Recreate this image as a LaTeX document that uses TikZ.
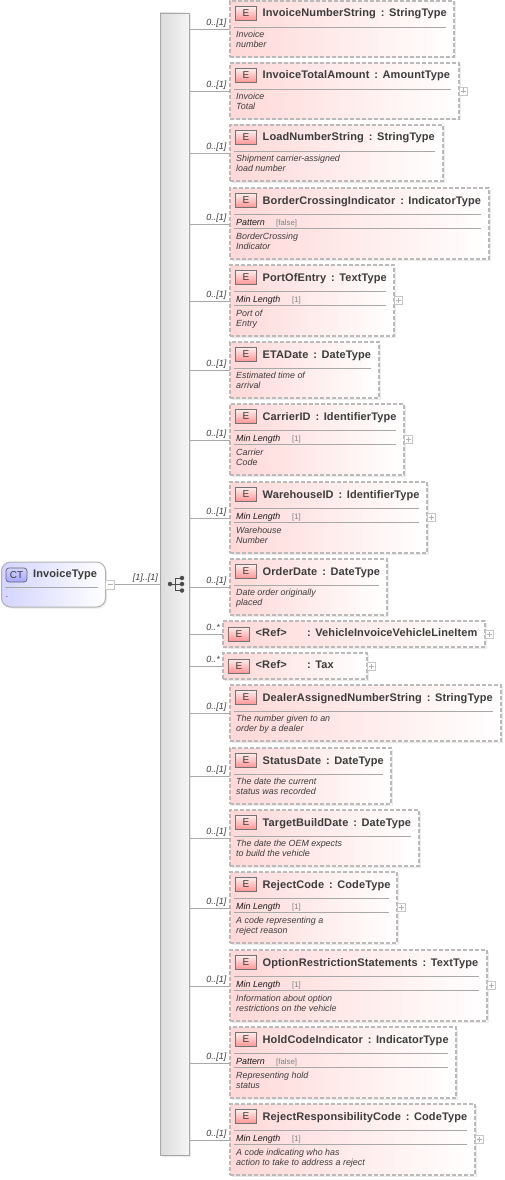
\documentclass[tikz,border=0pt]{standalone}
\usepackage{fontspec}
\setmainfont{Liberation Sans}
\usepackage{xcolor}
\usetikzlibrary{calc,positioning,shadows}

\definecolor{inktext}{HTML}{3C3C3C}
\definecolor{linegray}{HTML}{A8A8A8}
\definecolor{dashgray}{HTML}{BABABA}
\definecolor{elempink}{HTML}{FFD8D8}
\definecolor{ctblue}{HTML}{D4D4FF}

\tikzset{
  softshadow/.style={drop shadow={shadow xshift=1.5pt,shadow yshift=-1.5pt,fill=black,opacity=.08}},
  elembox/.style={draw=dashgray,dash pattern=on 4pt off 2pt,line width=1.1pt,left color=elempink,
    right color=white,softshadow,anchor=north west,inner sep=0pt,outer sep=0pt},
  badge/.style={draw=black!55,line width=.7pt,top color=red!7,bottom color=red!42,
    minimum width=21pt,minimum height=14pt,inner sep=0pt,text=inktext,font=\fontsize{10}{12}\selectfont},
  titletxt/.style={anchor=base west,inner sep=0pt,text=inktext,
    font=\fontsize{11}{12}\bfseries\selectfont\addfontfeature{LetterSpace=1}},
  doctxt/.style={anchor=north west,inner sep=0pt,align=left,text=inktext,font=\fontsize{8.9}{10}\itshape\selectfont},
  facettxt/.style={anchor=base west,inner sep=0pt,text=black!90,font=\fontsize{8.9}{10}\itshape\selectfont},
  facetval/.style={anchor=base west,inner sep=0pt,text=black!50,font=\fontsize{7.8}{10}\selectfont},
  occurs/.style={anchor=east,inner sep=0pt,text=inktext,font=\fontsize{9}{10}\itshape\selectfont},
  rulegray/.style={draw=linegray,line width=.8pt},
  conn/.style={draw=linegray,line width=.8pt},
  plusbox/.style={draw=black!22,fill=white,line width=.6pt,minimum size=8pt,inner sep=0pt,anchor=west,outer sep=0pt,
    path picture={\draw[black!30,line width=.5pt]
      ([xshift=-2.5pt]path picture bounding box.center) -- ([xshift=2.5pt]path picture bounding box.center)
      ([yshift=-2.5pt]path picture bounding box.center) -- ([yshift=2.5pt]path picture bounding box.center);}},
  minusbox/.style={draw=black!22,fill=white,line width=.6pt,minimum size=9pt,inner sep=0pt,anchor=west,outer sep=0pt,
    path picture={\draw[black!30,line width=.5pt]
      ([xshift=-2.5pt]path picture bounding box.center) -- ([xshift=2.5pt]path picture bounding box.center);}},
  icondot/.style={circle,fill=black!70,minimum size=4.5pt,inner sep=0pt},
}
\newcommand{\tsep}{\hspace{5pt}:\hspace{4.5pt}}

% element without a facet row
\newcommand{\elemplain}[5]{
  \node[elembox,minimum width=#3pt-230pt,minimum height=56pt] (#1) at (230,#2) {};
  \node[badge] (#1e) at ($(#1.north west)+(16,12.5)$) {E};
  \node[titletxt] (#1t) at ($(#1.north west)+(32.5,16)$) {#4};
  \draw[rulegray] ($(#1.north west)+(4,26)$) -- ($(#1.north east)+(-8,26)$);
  \node[doctxt] (#1d) at ($(#1.north west)+(6,29.5)$) {\strut #5};
  \draw[conn] (seq.east |- #1.west) ++(0,.5) -- ([yshift=-.5pt]#1.west);
  \node[occurs] (#1o) at ($(#1.west)+(-3.5,-5.5)$) {0..[1]};
}
% element with one facet row
\newcommand{\elemfacet}[7]{
  \node[elembox,minimum width=#3pt-230pt,minimum height=71pt] (#1) at (230,#2) {};
  \node[badge] (#1e) at ($(#1.north west)+(16,12.5)$) {E};
  \node[titletxt] (#1t) at ($(#1.north west)+(32.5,16)$) {#4};
  \draw[rulegray] ($(#1.north west)+(4,26)$) -- ($(#1.north east)+(-8,26)$);
  \draw[rulegray] ($(#1.north west)+(4,40)$) -- ($(#1.north east)+(-8,40)$);
  \node[facettxt] (#1f) at ($(#1.north west)+(6,37)$) {#5};
  \node[facetval] (#1v) at ($(#1.north west)+(#6,37)$) {#7};
  \draw[conn] (seq.east |- #1.west) ++(0,.5) -- ([yshift=-.5pt]#1.west);
  \node[occurs] (#1o) at ($(#1.west)+(-3.5,-5.5)$) {0..[1]};
}
% reference element
\newcommand{\elemref}[4]{
  \node[elembox,minimum width=#3pt-223pt,minimum height=26pt] (#1) at (223,#2) {};
  \node[badge] (#1e) at ($(#1.north west)+(16,13)$) {E};
  \node[titletxt] (#1t) at ($(#1.north west)+(32.5,15)$) {<Ref>};
  \node[titletxt] (#1n) at ($(#1.north west)+(84,15)$) {#4};
  \draw[conn] (seq.east |- #1.west) ++(0,.5) -- ([yshift=-.5pt]#1.west);
  \node[occurs] (#1o) at ($(#1.west)+(-3,-6.5)$) {0..*};
  \node[plusbox] (#1p) at (#1.east) {};
}

\begin{document}
\begin{tikzpicture}[x=1pt,y=-1pt]
  \useasboundingbox (0,0) rectangle (505,1180);
  % --- sequence bar ---
  \node[draw=black!35,line width=.8pt,left color=black!14,right color=black!4,softshadow,anchor=north west,
        minimum width=29pt,minimum height=1142pt,inner sep=0pt,outer sep=0pt] (seq) at (160,13) {};
  % --- complex type ---
  \node[draw=black!30,line width=1pt,rounded corners=9pt,left color=ctblue,right color=white,softshadow,
        anchor=north west,minimum width=104pt,minimum height=45pt,inner sep=0pt,outer sep=0pt] (ct) at (1.5,562) {};
  \node[draw=black!60,line width=.7pt,rounded corners=3pt,top color=ctblue,bottom color=blue!35,
        minimum width=21pt,minimum height=14pt,inner sep=0pt,text=inktext,font=\fontsize{10}{12}\selectfont]
        (ctbadge) at (16.5,575) {CT};
  \node[titletxt] (cttitle) at (33,577) {InvoiceType};
  \draw[rulegray] (5,587.5) -- (98,587.5);
  \node[doctxt] (ctdoc) at (6,590) {\strut .};
  \node[minusbox] (ctminus) at (ct.east) {};
  \draw[conn] (ctminus) -- (ctminus -| seq.west);
  \node[occurs] (ctocc) at (158,578) {[1]..[1]};
  % --- sequence symbol ---
  \node[icondot] (seqdot) at (170,584) {};
  \node[icondot] (seqa) at (182,578) {};
  \node[icondot] (seqb) at (182,584) {};
  \node[icondot] (seqc) at (182,590.5) {};
  \coordinate (seqhub) at (175,584);
  \draw[black!70,line width=.8pt] (seqdot) -- (seqhub);
  \foreach \d in {seqa,seqb,seqc} {
    \draw[black!70,line width=.8pt] (seqhub) |- (\d);
  }
  % --- children ---
  \elemplain{invnum}{1}{454}{InvoiceNumberString\tsep StringType}{Invoice\\number}
  \elemplain{invtot}{63}{459}{InvoiceTotalAmount\tsep AmountType}{Invoice\\Total}
  \node[plusbox] (invtotp) at (invtot.east) {};
  \elemplain{loadnum}{125}{443}{LoadNumberString\tsep StringType}{Shipment carrier-assigned\\load number}
  \elemfacet{border}{188}{489}{BorderCrossingIndicator\tsep IndicatorType}{Pattern}{46}{[false]}
  \node[doctxt] (borderd) at ($(border.north west)+(6,44)$) {\strut BorderCrossing\\Indicator};
  \elemfacet{port}{265}{394}{PortOfEntry\tsep TextType}{Min Length}{62}{[1]}
  \node[doctxt] (portd) at ($(port.north west)+(6,44)$) {\strut Port of\\Entry};
  \node[plusbox] (portp) at (port.east) {};
  \elemplain{eta}{342}{379}{ETADate\tsep DateType}{Estimated time of\\arrival}
  \elemfacet{carrier}{404}{404}{CarrierID\tsep IdentifierType}{Min Length}{62}{[1]}
  \node[doctxt] (carrierd) at ($(carrier.north west)+(6,44)$) {\strut Carrier\\Code};
  \node[plusbox] (carrierp) at (carrier.east) {};
  \elemfacet{wareh}{482}{427}{WarehouseID\tsep IdentifierType}{Min Length}{62}{[1]}
  \node[doctxt] (warehd) at ($(wareh.north west)+(6,44)$) {\strut Warehouse\\Number};
  \node[plusbox] (warehp) at (wareh.east) {};
  \elemplain{order}{559}{387}{OrderDate\tsep DateType}{Date order originally\\placed}
  \elemref{lineitem}{621}{485}{:\hspace{4.5pt}VehicleInvoiceVehicleLineItem}
  \elemref{tax}{653}{367}{:\hspace{4.5pt}Tax}
  \elemplain{dealer}{685}{501}{DealerAssignedNumberString\tsep StringType}{The number given to an\\order by a dealer}
  \elemplain{status}{748}{391}{StatusDate\tsep DateType}{The date the current\\status was recorded}
  \elemplain{target}{810}{419}{TargetBuildDate\tsep DateType}{The date the OEM expects\\to build the vehicle}
  \elemfacet{reject}{872}{397}{RejectCode\tsep CodeType}{Min Length}{62}{[1]}
  \node[doctxt] (rejectd) at ($(reject.north west)+(6,44)$) {\strut A code representing a\\reject reason};
  \node[plusbox] (rejectp) at (reject.east) {};
  \elemfacet{option}{950}{487}{OptionRestrictionStatements\tsep TextType}{Min Length}{62}{[1]}
  \node[doctxt] (optiond) at ($(option.north west)+(6,44)$) {\strut Information about option\\restrictions on the vehicle};
  \node[plusbox] (optionp) at (option.east) {};
  \elemfacet{hold}{1027}{456}{HoldCodeIndicator\tsep IndicatorType}{Pattern}{46}{[false]}
  \node[doctxt] (holdd) at ($(hold.north west)+(6,44)$) {\strut Representing hold\\status};
  \elemfacet{respons}{1104}{475}{RejectResponsibilityCode\tsep CodeType}{Min Length}{62}{[1]}
  \node[doctxt] (responsd) at ($(respons.north west)+(6,44)$) {\strut A code indicating who has\\action to take to address a reject};
  \node[plusbox] (responsp) at (respons.east) {};
\end{tikzpicture}
\end{document}
